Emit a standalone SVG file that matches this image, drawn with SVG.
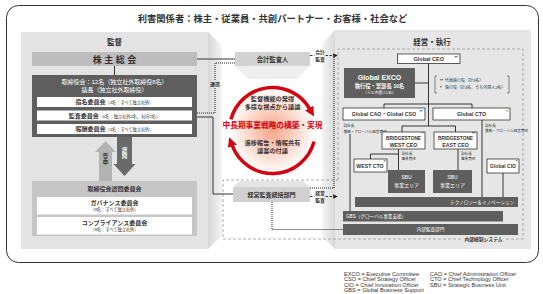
<svg xmlns="http://www.w3.org/2000/svg" width="543" height="294" viewBox="0 0 543 294">
<style>
text{font-family:'Liberation Sans','Noto Sans CJK JP',sans-serif;fill:#333}
.b{font-weight:700}
.m{text-anchor:middle}
.e{text-anchor:end}
.wt{fill:#fff}
.box{fill:#fff;stroke:#333;stroke-width:0.8}
.dk{fill:#5e5e5e}
.ln{fill:none;stroke:#222;stroke-width:0.9}
.dot{fill:none;stroke:#222;stroke-width:1;stroke-dasharray:1 1}
.dash{fill:none;stroke:#222;stroke-width:0.9;stroke-dasharray:2.5 1.5}
.ctrl{fill:none;stroke:#999;stroke-width:0.8;stroke-dasharray:3 2}
.red{fill:none;stroke:#d7000f;stroke-width:3.5}
.ast{font-size:4px;font-weight:700}
.vp{font-size:3.6px}
</style>
<defs>
<marker id="ah" viewBox="0 0 6 6" refX="5" refY="3" markerWidth="4.5" markerHeight="4.5" markerUnits="userSpaceOnUse" orient="auto"><path d="M0,0 L6,3 L0,6 z" fill="#222"/></marker>
<marker id="ra" viewBox="0 0 10 10" refX="1" refY="5" markerWidth="9.5" markerHeight="9.5" markerUnits="userSpaceOnUse" orient="auto"><path d="M0,0 L10,5 L0,10 z" fill="#d7000f"/></marker>
<radialGradient id="cg" cx="0.5" cy="0.5" r="0.5"><stop offset="0" stop-color="#f6a486"/><stop offset="0.5" stop-color="#fbd3c3"/><stop offset="1" stop-color="#ffffff"/></radialGradient>
<linearGradient id="lf" x1="0" y1="0" x2="1" y2="0"><stop offset="0" stop-color="#d6d6d6"/><stop offset="1" stop-color="#f5f5f5"/></linearGradient>
<linearGradient id="rf" x1="1" y1="0" x2="0" y2="0"><stop offset="0" stop-color="#d8d8d8"/><stop offset="1" stop-color="#f5f5f5"/></linearGradient>
</defs>

<rect x="6.5" y="5.5" width="532" height="257" rx="12" fill="#fff" stroke="#333" stroke-width="1"/>
<text x="272.5" y="22" class="b m" font-size="9.3">利害関係者：株主・従業員・共創パートナー・お客様・社会など</text>

<g id="panel-supervision">
<polygon points="208,32 222,46 222,236 208,249" fill="url(#lf)"/>
<rect x="21" y="32" width="187" height="217" fill="#e3e3e3"/>
<text x="114.5" y="45" class="b m" font-size="7.5">監督</text>
</g>
<g id="panel-execution">
<polygon points="335,30 322,44 322,236 335,249" fill="url(#rf)"/>
<rect x="335" y="30" width="196" height="219" fill="#e6e6e6"/>
<text x="432" y="44.5" class="b m" font-size="7.5">経営・執行</text>
</g>

<g id="shareholders">
<rect x="32" y="52" width="165" height="14" fill="#bdbdbd"/>
<text x="115.8" y="62.8" class="b m" font-size="9" letter-spacing="2.5">株主総会</text>
</g>
<g id="board">
<rect x="32" y="75" width="165" height="62" fill="#5e5e5e"/>
<text x="114.5" y="84" class="m wt" font-size="6">取締役会：12名（独立社外取締役8名）</text>
<text x="114.5" y="91.5" class="m wt" font-size="6">議長（独立社外取締役）</text>
<rect x="37" y="97" width="155" height="10" fill="#fff"/>
<text x="114.5" y="104.2" class="m"><tspan class="b" font-size="6">指名委員会</tspan><tspan font-size="4.2">（4名：すべて独立社外）</tspan></text>
<rect x="37" y="110.5" width="155" height="10" fill="#fff"/>
<text x="114.5" y="117.7" class="m"><tspan class="b" font-size="6">監査委員会</tspan><tspan font-size="4.2">（6名：独立社外4名、社内2名）</tspan></text>
<rect x="37" y="124" width="155" height="10" fill="#fff"/>
<text x="114.5" y="131.2" class="m"><tspan class="b" font-size="6">報酬委員会</tspan><tspan font-size="4.2">（4名：すべて独立社外）</tspan></text>
</g>
<g id="arrow-report">
<polygon points="105.5,141 116,152 112,152 112,181 99,181 99,152 95,152" fill="#b3b3b3"/>
<text x="105.5" y="158" class="b m" font-size="5.5">答</text>
<text x="105.5" y="164" class="b m" font-size="5.5">申</text>
</g>
<g id="arrow-consult">
<polygon points="117,137 132,137 132,164 135.5,164 124.5,176 113.5,164 117,164" fill="#6a6a6a"/>
<text x="124.5" y="152" class="b m wt" font-size="5.5">諮</text>
<text x="124.5" y="158" class="b m wt" font-size="5.5">問</text>
</g>
<g id="advisory">
<rect x="32" y="181" width="165" height="55" fill="#c6c6c6"/>
<text x="114.5" y="191" class="b m" font-size="6">取締役会諮問委員会</text>
<rect x="37" y="197" width="155" height="17.5" fill="#fff"/>
<text x="114.5" y="204.5" class="b m" font-size="6">ガバナンス委員会</text>
<text x="114.5" y="211" class="m" font-size="4.2">（8名：すべて独立社外）</text>
<rect x="37" y="217" width="155" height="17.5" fill="#fff"/>
<text x="114.5" y="224.5" class="b m" font-size="6">コンプライアンス委員会</text>
<text x="114.5" y="231" class="m" font-size="4.2">（8名：すべて独立社外）</text>
</g>

<g id="accounting-auditor">
<polygon points="235,66 310,66 297,79 248,79" fill="#efefef"/>
<rect x="235" y="52" width="75" height="14" fill="#d2d2d2"/>
<text x="272.5" y="61.5" class="b m" font-size="6.3">会計監査人</text>
</g>

<g id="strategy-cycle">
<circle cx="272.5" cy="130.5" r="43" fill="url(#cg)"/>
<path class="red" d="M230.97,119.37 A43,43 0 0 1 309.74,109" marker-end="url(#ra)"/>
<path class="red" d="M314.03,141.63 A43,43 0 0 1 232.09,145.21" marker-end="url(#ra)"/>
<text x="272.5" y="101.3" class="b m" font-size="6.2">監督機能の発揮</text>
<text x="272.5" y="109" class="b m" font-size="6.2">多様な視点から議論</text>
<text x="272.5" y="128" class="b m" font-size="7.7" style="fill:#d7000f">中長期事業戦略の構築・実現</text>
<text x="272.5" y="145.3" class="b m" font-size="6.2">進捗報告・情報共有</text>
<text x="272.5" y="153.3" class="b m" font-size="6.2">議案の付議</text>
</g>

<g id="internal-control">
<path class="ctrl" d="M338,180 V49 H523 V239 H506 M461,239 H223 V180 H338"/>
<text x="483.5" y="241" class="b m" font-size="4.8">内部統制システム</text>
</g>

<g id="audit-division">
<polygon points="233,187 240,181 303,181 310,187" fill="#e4e4e4"/>
<rect x="233" y="187" width="77" height="15" fill="#d0d0d0"/>
<text x="271.5" y="197" class="b m" font-size="6">経営監査統括部門</text>
</g>

<g id="ceo">
<rect x="397.5" y="54" width="62.5" height="9.5" class="box"/>
<text x="428.75" y="60.7" class="b m" font-size="5.5">Global CEO</text>
<text x="456" y="58.5" class="ast m">**</text>
</g>
<g id="exco">
<rect x="344" y="68" width="71" height="30" class="dk"/>
<text x="379.5" y="80" class="b m wt" font-size="7">Global EXCO</text>
<text x="379.5" y="87.5" class="b m wt" font-size="5.3">執行役・室部長 10名</text>
<text x="379.5" y="93.5" class="m wt" font-size="3.8">（うち外国人5名）</text>
</g>
<g id="legend-officers">
<path d="M437,76 h-2 v17 h2 M507,76 h2 v17 h-2" fill="none" stroke="#555" stroke-width="0.7"/>
<text x="440" y="81.5" font-size="4"><tspan class="b">**</tspan><tspan x="445">代表執行役（計3名）</tspan></text>
<text x="440" y="89" font-size="4"><tspan class="b">*</tspan><tspan x="445">執行役（計4名、うち外国人2名）</tspan></text>
</g>
<g id="cao-cso">
<rect x="343" y="108" width="82" height="12" class="box"/>
<text x="384" y="116" class="b m" font-size="5.3">Global CAO・Global CSO</text>
<text x="421" y="112.5" class="ast m">**</text>
<text x="343.5" y="127" class="vp">副社長</text>
<text x="343.5" y="132.5" class="vp">兼務・グローバル経営責任</text>
</g>
<g id="cto">
<rect x="433" y="108" width="77" height="12" class="box"/>
<text x="471.5" y="116" class="b m" font-size="5.3">Global CTO</text>
<text x="507" y="112.5" class="ast m">*</text>
<text x="485" y="126.5" class="vp">副社長</text>
<text x="485" y="131.5" class="vp">兼務・グローバル経営責任</text>
</g>
<g id="west-ceo">
<rect x="382" y="132" width="43" height="17" class="box"/>
<text x="403.5" y="140.2" class="b m" font-size="4.8">BRIDGESTONE</text>
<text x="403.5" y="146.8" class="b m" font-size="5.2">WEST CEO</text>
<text x="422.5" y="134.8" class="ast m">*</text>
<text x="401.5" y="155" class="vp">副社長</text>
<text x="401.5" y="160" class="vp">事業責任</text>
</g>
<g id="east-ceo">
<rect x="434" y="132" width="43" height="17" class="box"/>
<text x="455.5" y="140.2" class="b m" font-size="4.8">BRIDGESTONE</text>
<text x="455.5" y="146.8" class="b m" font-size="5.2">EAST CEO</text>
<text x="473.5" y="134.8" class="ast m">**</text>
<text x="461" y="155" class="vp">副社長</text>
<text x="461" y="160" class="vp">事業責任</text>
</g>
<g id="west-cto">
<rect x="354" y="159" width="33" height="13" class="box"/>
<text x="370" y="167.5" class="b m" font-size="5.2">WEST CTO</text>
<text x="384.5" y="162.8" class="ast m">*</text>
</g>
<g id="sbu-west">
<rect x="388" y="170" width="37" height="23" class="dk"/>
<text x="406.5" y="178.5" class="m wt" font-size="5.2">SBU</text>
<text x="406.5" y="187" class="m wt" font-size="5">事業エリア</text>
</g>
<g id="sbu-east">
<rect x="433" y="170" width="39" height="23" class="dk"/>
<text x="452.5" y="178.5" class="m wt" font-size="5.2">SBU</text>
<text x="452.5" y="187" class="m wt" font-size="5">事業エリア</text>
</g>
<g id="cio">
<rect x="487" y="159" width="32" height="14" class="box"/>
<text x="503" y="168" class="b m" font-size="5">Global CIO</text>
<text x="516.5" y="162.8" class="ast m">*</text>
</g>
<g id="tech">
<rect x="355" y="197" width="163" height="10" class="dk"/>
<text x="514" y="203.8" class="e wt" font-size="4.6">テクノロジー＆イノベーション</text>
</g>
<g id="gbs">
<rect x="343" y="211" width="160" height="10.5" class="dk"/>
<text x="346" y="218" class="wt" font-size="4.6">GBS（グローバル事業支援）</text>
</g>
<g id="internal-audit">
<rect x="343" y="224" width="175" height="11" class="dk"/>
<text x="430.5" y="231.4" class="m wt" font-size="4.6">内部監査部門</text>
</g>

<g id="connectors">
<path class="ln" d="M114.5,66 V75"/>
<path class="ln" d="M197,59 H235"/>
<path class="dot" d="M197,113 H215 V88 M215,80 V63 H235"/>
<text x="215" y="86" class="b m" font-size="5">連携</text>
<path class="ln" d="M197,117 H213 V194 H233"/>
<path class="dash" d="M310,55.5 H314.5"/>
<path class="dash" d="M325.5,55.5 H337" marker-end="url(#ah)"/>
<text x="320" y="54" class="b m" font-size="4.8">会計</text>
<text x="320" y="61" class="b m" font-size="4.8">監査</text>
<path class="dot" d="M310,188 H334 V56"/>
<path class="dash" d="M310,196.5 H314.5"/>
<path class="dash" d="M325.5,196.5 H337" marker-end="url(#ah)"/>
<text x="320" y="194.5" class="b m" font-size="4.8">経営</text>
<text x="320" y="201.5" class="b m" font-size="4.8">監査</text>
<path class="dot" d="M272,202 V229.5 H343"/>
<path class="ln" d="M428.5,63.5 V126 M415,83 H428.5 M384,108 V104 H472 V108 M402,132 V126 H455.5 V132"/>
<path class="ln" d="M350,134 V211 M482,120 V197 M398.5,149 V170 M398.5,154 H370.5 V159 M458,149 V170 M503,173 V197"/>
</g>

<g id="abbreviations" font-size="5.6">
<text x="344" y="275.8">EXCO = Executive Committee</text>
<text x="344" y="281.1">CSO = Chief Strategy Officer</text>
<text x="344" y="286.5">CIO = Chief Innovation Officer</text>
<text x="344" y="291.8">GBS = Global Business Support</text>
<text x="430" y="275.8">CAO = Chief Administration Officer</text>
<text x="430" y="281.1">CTO = Chief Technology Officer</text>
<text x="430" y="286.5">SBU = Strategic Business Unit</text>
</g>
</svg>
